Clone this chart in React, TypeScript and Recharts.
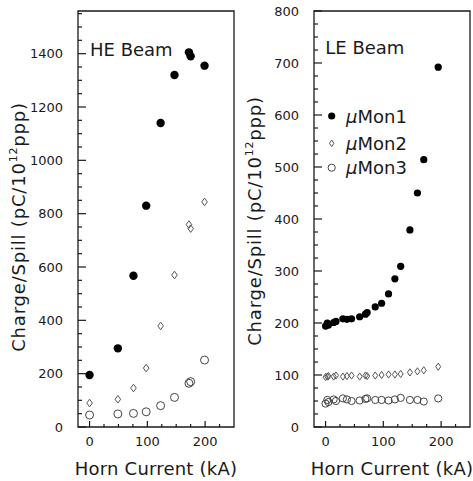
import React from 'react';
import { ScatterChart, Scatter, XAxis, YAxis, ReferenceArea, Legend } from 'recharts';

// ---- HE beam (left panel) ----
const heCurrent = [0, 49, 76, 98, 123, 147, 172, 175, 199];
const heMon1 = [195, 295, 567, 830, 1140, 1320, 1405, 1390, 1355];
const heMon2 = [90, 104, 146, 221, 379, 570, 759, 744, 844];
const heMon3 = [45, 49, 51, 57, 80, 111, 164, 170, 251];

// ---- LE beam (right panel) ----
const leCurrent = [0, 3, 5, 14, 18, 30, 37, 45, 59, 69, 72, 86, 97, 109, 120, 130, 146, 159, 170, 195];
const leMon1 = [194, 200, 196, 201, 203, 208, 207, 208, 212, 217, 220, 231, 238, 256, 285, 309, 379, 450, 514, 692];
const leMon2 = [96, 97, 98, 97, 99, 97, 98, 99, 97, 99, 98, 99, 100, 101, 101, 102, 105, 107, 109, 116];
const leMon3 = [45, 52, 48, 53, 50, 55, 53, 50, 51, 54, 55, 52, 52, 51, 53, 56, 52, 52, 49, 55];

const seriesNames = ['μMon1', 'μMon2', 'μMon3'];
const xTicks = [0, 25, 50, 75, 100, 125, 150, 175, 200, 225];
const heYTicks = Array.from({ length: 32 }, (_, i) => i * 50);
const leYTicks = Array.from({ length: 33 }, (_, i) => i * 25);
const xTitle = 'Horn Current (kA)';
const panelTitles = ['HE Beam', 'LE Beam'];

const FONT = '"DejaVu Sans", sans-serif';
const INK = '#1a1a1a';

const toPoints = (xs: number[], ys: number[]) => xs.map((x, i) => ({ x, y: ys[i] }));

const filledShape = (r: number) => (p: any) => <circle cx={p.cx} cy={p.cy} r={r} fill="#000" />;
const openShape = (r: number) => (p: any) => (
  <circle cx={p.cx} cy={p.cy} r={r} fill="none" stroke="#444" strokeWidth={1} />
);
const diamondShape = (hw: number, hh: number) => (p: any) => (
  <polygon
    points={`${p.cx},${p.cy - hh} ${p.cx + hw},${p.cy} ${p.cx},${p.cy + hh} ${p.cx - hw},${p.cy}`}
    fill="none"
    stroke="#555"
    strokeWidth={1}
  />
);

const YTick = (props: any) => {
  const { x, y, payload, step } = props;
  const v = payload.value;
  const major = v % step === 0;
  return (
    <g>
      <line x1={x} x2={x + (major ? 8 : 4)} y1={y} y2={y} stroke={INK} strokeWidth={1.2} />
      {major && (
        <text x={x - 15} y={y + 4.7} textAnchor="end" fontSize={13} fill={INK} fontFamily={FONT}>
          {v}
        </text>
      )}
    </g>
  );
};

const XTick = (props: any) => {
  const { x, y, payload } = props;
  const v = payload.value;
  const major = v % 100 === 0;
  return (
    <g>
      <line x1={x} x2={x} y1={y} y2={y - (major ? 6 : 3)} stroke={INK} strokeWidth={1.2} />
      {major && (
        <text x={x} y={y + 19} textAnchor="middle" fontSize={13} fill={INK} fontFamily={FONT}>
          {v}
        </text>
      )}
    </g>
  );
};

const XTitle = (props: any) => {
  const vb = props.viewBox || { x: 0, y: 0, width: 0, height: 0 };
  return (
    <text x={vb.x + vb.width / 2} y={vb.y + 47.5} textAnchor="middle" fontSize={18} fill={INK} fontFamily={FONT} letterSpacing={0.2}>
      {xTitle}
    </text>
  );
};

const YTitle = (props: any) => {
  const vb = props.viewBox || { x: 0, y: 0, width: 0, height: 0 };
  const bx = vb.x + vb.width - 53;
  const cy = vb.y + vb.height / 2 + (props.shift || 0);
  return (
    <text
      x={bx}
      y={cy}
      transform={`rotate(-90 ${bx} ${cy})`}
      textAnchor="middle"
      fontSize={18}
      fill={INK}
      fontFamily={FONT}
      letterSpacing={0.8}
    >
      Charge/Spill (pC/10
      <tspan fontSize={11} dy={-8}>12</tspan>
      <tspan dy={8}>ppp)</tspan>
    </text>
  );
};

const legendRows = [16, 43.3, 67.7];
const legendMarkers = [
  (cx: number, cy: number) => <circle cx={cx} cy={cy} r={3.6} fill="#000" />,
  (cx: number, cy: number) => (
    <polygon points={`${cx},${cy - 3.3} ${cx + 2.2},${cy} ${cx},${cy + 3.3} ${cx - 2.2},${cy}`} fill="none" stroke="#555" strokeWidth={1} />
  ),
  (cx: number, cy: number) => <circle cx={cx} cy={cy} r={3.6} fill="none" stroke="#444" strokeWidth={1} />,
];

const LegendContent = (props: any) => {
  const payload = props.payload || [];
  return (
    <svg width={150} height={80} style={{ display: 'block', overflow: 'visible' }}>
      {payload.map((item: any, i: number) => {
        const cy = legendRows[i];
        const name = String(item.value);
        return (
          <g key={name}>
            {legendMarkers[i](11.7, cy)}
            <text x={26} y={cy + 6.5} fontSize={18} fill={INK} fontFamily={FONT}>
              <tspan fontStyle="italic">{name.charAt(0)}</tspan>
              {name.slice(1)}
            </text>
          </g>
        );
      })}
    </svg>
  );
};

export default function App() {
  return (
    <div
      style={{
        position: 'absolute',
        left: 0,
        top: 0,
        width: 473,
        height: 481,
        overflow: 'hidden',
        background: '#fff',
        fontFamily: FONT,
      }}
    >
      <div style={{ position: 'absolute', left: 0, top: 0 }}>
        <ScatterChart width={240} height={481} margin={{ top: 11, right: 6, bottom: 0, left: 18 }}>
          <XAxis
            type="number"
            dataKey="x"
            domain={[-20, 250]}
            ticks={xTicks}
            interval={0}
            tickSize={0}
            tickMargin={0}
            axisLine={false}
            tickLine={false}
            tick={XTick}
            height={54}
            allowDataOverflow
            label={XTitle}
          />
          <YAxis
            type="number"
            dataKey="y"
            domain={[0, 1560]}
            ticks={heYTicks}
            interval={0}
            tickSize={0}
            tickMargin={0}
            axisLine={false}
            tickLine={false}
            tick={(p: any) => <YTick {...p} step={200} />}
            width={60}
            allowDataOverflow
            label={(p: any) => <YTitle {...p} shift={8} />}
          />
          <ReferenceArea x1={-20} x2={250} y1={0} y2={1560} stroke={INK} strokeWidth={1.3} fill="none" fillOpacity={0} />
          <Scatter name={seriesNames[0]} data={toPoints(heCurrent, heMon1)} shape={filledShape(4.2)} isAnimationActive={false} />
          <Scatter name={seriesNames[1]} data={toPoints(heCurrent, heMon2)} shape={diamondShape(2.8, 3.8)} isAnimationActive={false} />
          <Scatter name={seriesNames[2]} data={toPoints(heCurrent, heMon3)} shape={openShape(4)} isAnimationActive={false} />
        </ScatterChart>
      </div>
      <div style={{ position: 'absolute', left: 240, top: 0 }}>
        <ScatterChart width={240} height={481} margin={{ top: 11, right: 10, bottom: 0, left: 14 }}>
          <XAxis
            type="number"
            dataKey="x"
            domain={[-20, 250]}
            ticks={xTicks}
            interval={0}
            tickSize={0}
            tickMargin={0}
            axisLine={false}
            tickLine={false}
            tick={XTick}
            height={54}
            allowDataOverflow
            label={XTitle}
          />
          <YAxis
            type="number"
            dataKey="y"
            domain={[0, 800]}
            ticks={leYTicks}
            interval={0}
            tickSize={0}
            tickMargin={0}
            axisLine={false}
            tickLine={false}
            tick={(p: any) => <YTick {...p} step={100} />}
            width={60}
            allowDataOverflow
            label={(p: any) => <YTitle {...p} shift={2} />}
          />
          <ReferenceArea x1={-20} x2={250} y1={0} y2={800} stroke={INK} strokeWidth={1.3} fill="none" fillOpacity={0} />
          <Legend
            layout="horizontal"
            verticalAlign="middle"
            align="center"
            wrapperStyle={{ position: 'absolute', left: 80, top: 100, width: 150, height: 80 }}
            content={LegendContent}
          />
          <Scatter name={seriesNames[0]} data={toPoints(leCurrent, leMon1)} shape={filledShape(3.6)} isAnimationActive={false} />
          <Scatter name={seriesNames[1]} data={toPoints(leCurrent, leMon2)} shape={diamondShape(2.5, 3.6)} isAnimationActive={false} />
          <Scatter name={seriesNames[2]} data={toPoints(leCurrent, leMon3)} shape={openShape(3.6)} isAnimationActive={false} />
        </ScatterChart>
      </div>
      <svg width={473} height={481} style={{ position: 'absolute', left: 0, top: 0, pointerEvents: 'none' }}>
        <text x={90} y={56} fontSize={18} fill={INK} fontFamily={FONT}>{panelTitles[0]}</text>
        <text x={325.3} y={54.3} fontSize={18} fill={INK} fontFamily={FONT}>{panelTitles[1]}</text>
      </svg>
    </div>
  );
}
